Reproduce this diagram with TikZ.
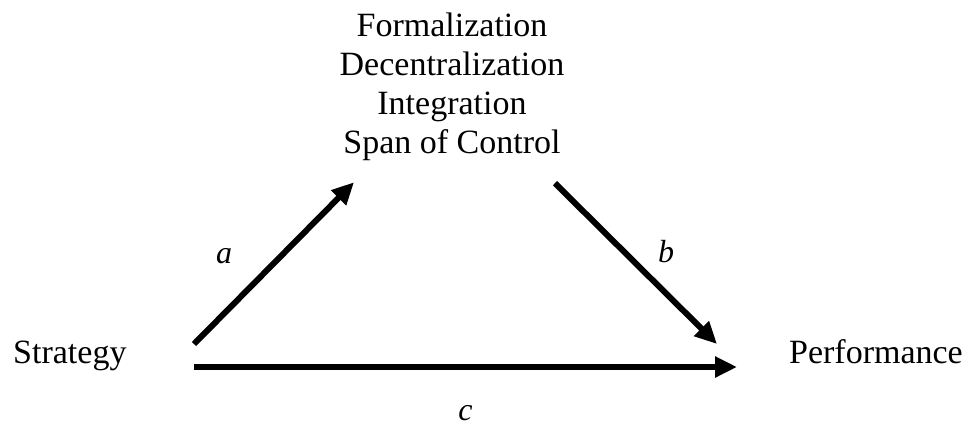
\documentclass[tikz,border=0pt]{standalone}
\usepackage{fontspec}
\setmainfont{Liberation Serif}
\usetikzlibrary{calc, positioning}
\usetikzlibrary{arrows.meta}

\begin{document}
\begin{tikzpicture}[x=1pt, y=-1pt,
    every node/.style={inner sep=0pt, font=\fontsize{34}{39}\selectfont},
    path/.style={line width=6pt, -{Triangle[length=22pt, width=20pt]}},
    coef/.style={font=\fontsize{32}{36}\selectfont\itshape}]

\useasboundingbox (0,0) rectangle (969,426);

\node[anchor=base west] (strat) at (13,363) {Strategy};
\node[anchor=base east] (perf) at (963,363) {Performance};
\node[anchor=north, align=center] (struct) at (452,13)
    {Formalization\\Decentralization\\Integration\\Span of Control};

% a: strategy -> structure
\draw[path] ([shift={(181pt,19pt)}]strat.base west)
    -- ([shift={(-98pt,-21pt)}]struct.south)
    node[coef, midway, xshift=-50pt, yshift=7pt] {a};

% b: structure -> performance
\draw[path] ([shift={(103pt,-22pt)}]struct.south)
    -- ([shift={(-246pt,19pt)}]perf.base east)
    node[coef, midway, xshift=30pt, yshift=12pt] {b};

% c: direct effect
\draw[path] ([shift={(181pt,-4pt)}]strat.base west)
    -- ([shift={(-226pt,-4pt)}]perf.base east)
    node[coef, midway, yshift=-46pt] {c};
\end{tikzpicture}
\end{document}
